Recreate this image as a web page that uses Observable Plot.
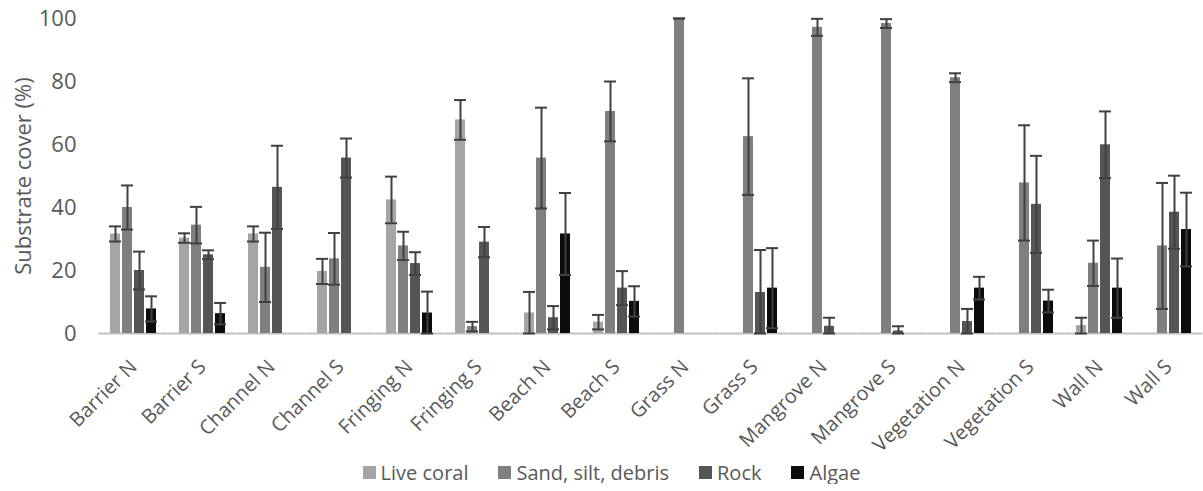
<!DOCTYPE html>
<html><head><meta charset="utf-8">
<script src="https://cdn.jsdelivr.net/npm/d3@7"></script>
<script src="https://cdn.jsdelivr.net/npm/@observablehq/plot@0.6"></script>
<style>
body{margin:0;background:#fff;font-family:"Open Sans",sans-serif;}
#chart svg{overflow:visible}
#legend{display:flex;justify-content:center;gap:30px;font-size:20px;color:#595959;padding-left:20px;height:24px;align-items:center;width:1183px}
.item{display:flex;align-items:center}
.sw{display:inline-block;width:13px;height:13px;margin-right:5px}
</style></head><body>
<div id="chart"></div><div id="legend"></div>
<script>
const sites = ["Barrier N","Barrier S","Channel N","Channel S","Fringing N","Fringing S","Beach N","Beach S","Grass N","Grass S","Mangrove N","Mangrove S","Vegetation N","Vegetation S","Wall N","Wall S"];
const types = ["Live coral","Sand, silt, debris","Rock","Algae"];
const colors = ["#a5a5a5","#7f7f7f","#555555","#0c0c0c"];
const yTicks = [0,20,40,60,80,100];

const liveCoral    = [31.6,30.3,31.6,19.7,42.4,67.8,6.5,3.6,null,null,null,null,null,null,2.5,null];
const liveCoralErr = [2.4,1.5,2.4,4.0,7.4,6.3,6.7,2.3,null,null,null,null,null,null,2.5,null];
const sand         = [40.0,34.4,21.0,23.7,27.8,2.2,55.7,70.5,100,62.5,97.2,98.4,81.2,47.8,22.3,27.8];
const sandErr      = [7.0,5.8,11.0,8.2,4.5,1.5,16.0,9.5,0,18.5,2.7,1.4,1.4,18.3,7.2,20.0];
const rock         = [20.0,25.0,46.4,55.7,22.2,29.0,5.0,14.4,null,13.0,2.3,0.8,3.8,41.0,59.9,38.5];
const rockErr      = [6.0,1.4,13.2,6.2,3.6,4.8,3.7,5.4,null,13.5,2.7,1.5,4.0,15.4,10.6,11.6];
const algae        = [7.8,6.3,null,null,6.5,null,31.6,10.2,null,14.4,null,null,14.4,10.3,14.4,33.0];
const algaeErr     = [4.0,3.4,null,null,6.8,null,13.0,4.8,null,12.7,null,null,3.6,3.6,9.4,11.7];

const series = [[liveCoral, liveCoralErr],[sand, sandErr],[rock, rockErr],[algae, algaeErr]];
const rows = [];
series.forEach(([vals, errs], t) => {
  sites.forEach((s, i) => {
    if (vals[i] == null) return;
    rows.push({site: s, type: types[t], value: vals[i], lo: Math.max(0, vals[i] - errs[i]), hi: Math.min(100, vals[i] + errs[i])});
  });
});

const chart = Plot.plot({
  width: 1203, height: 460,
  marginLeft: 98, marginRight: 0, marginTop: 18, marginBottom: 127,
  style: {fontFamily: '"Open Sans", sans-serif', fontSize: "22px", color: "#595959", background: "#fff"},
  fx: {domain: sites, paddingInner: 0.3, paddingOuter: 0.15, label: null},
  x: {domain: types, paddingInner: 0.2, paddingOuter: 0, axis: null},
  y: {domain: [0, 100]},
  color: {domain: types, range: colors},
  marks: [
    Plot.ruleY([0], {stroke: "#bfbfbf", strokeWidth: 2, insetLeft: -10.4, insetRight: -10.4}),
    Plot.barY(rows, {fx: "site", x: "type", y: "value", fill: "type"}),
    Plot.ruleX(rows, {fx: "site", x: "type", y1: "lo", y2: "hi", stroke: "#404040", strokeWidth: 2}),
    Plot.tickY(rows, {fx: "site", x: "type", y: "lo", stroke: "#404040", strokeWidth: 2, insetLeft: -1, insetRight: -1}),
    Plot.tickY(rows, {fx: "site", x: "type", y: "hi", stroke: "#404040", strokeWidth: 2, insetLeft: -1, insetRight: -1}),
    Plot.axisY({ticks: yTicks, tickSize: 0, tickPadding: 33, label: "Substrate cover (%)", labelAnchor: "center", labelArrow: "none", labelOffset: 94, fontSize: 22}),
    Plot.axisFx({anchor: "bottom", tickRotate: -45, tickSize: 0, tickPadding: 30, label: null, fontSize: 20})
  ]
});
document.getElementById("chart").appendChild(chart);

const legend = document.getElementById("legend");
types.forEach((t, i) => {
  const it = document.createElement("span");
  it.className = "item";
  const sw = document.createElement("span");
  sw.className = "sw";
  sw.style.background = colors[i];
  it.appendChild(sw);
  it.appendChild(document.createTextNode(t));
  legend.appendChild(it);
});
</script>
</body></html>
